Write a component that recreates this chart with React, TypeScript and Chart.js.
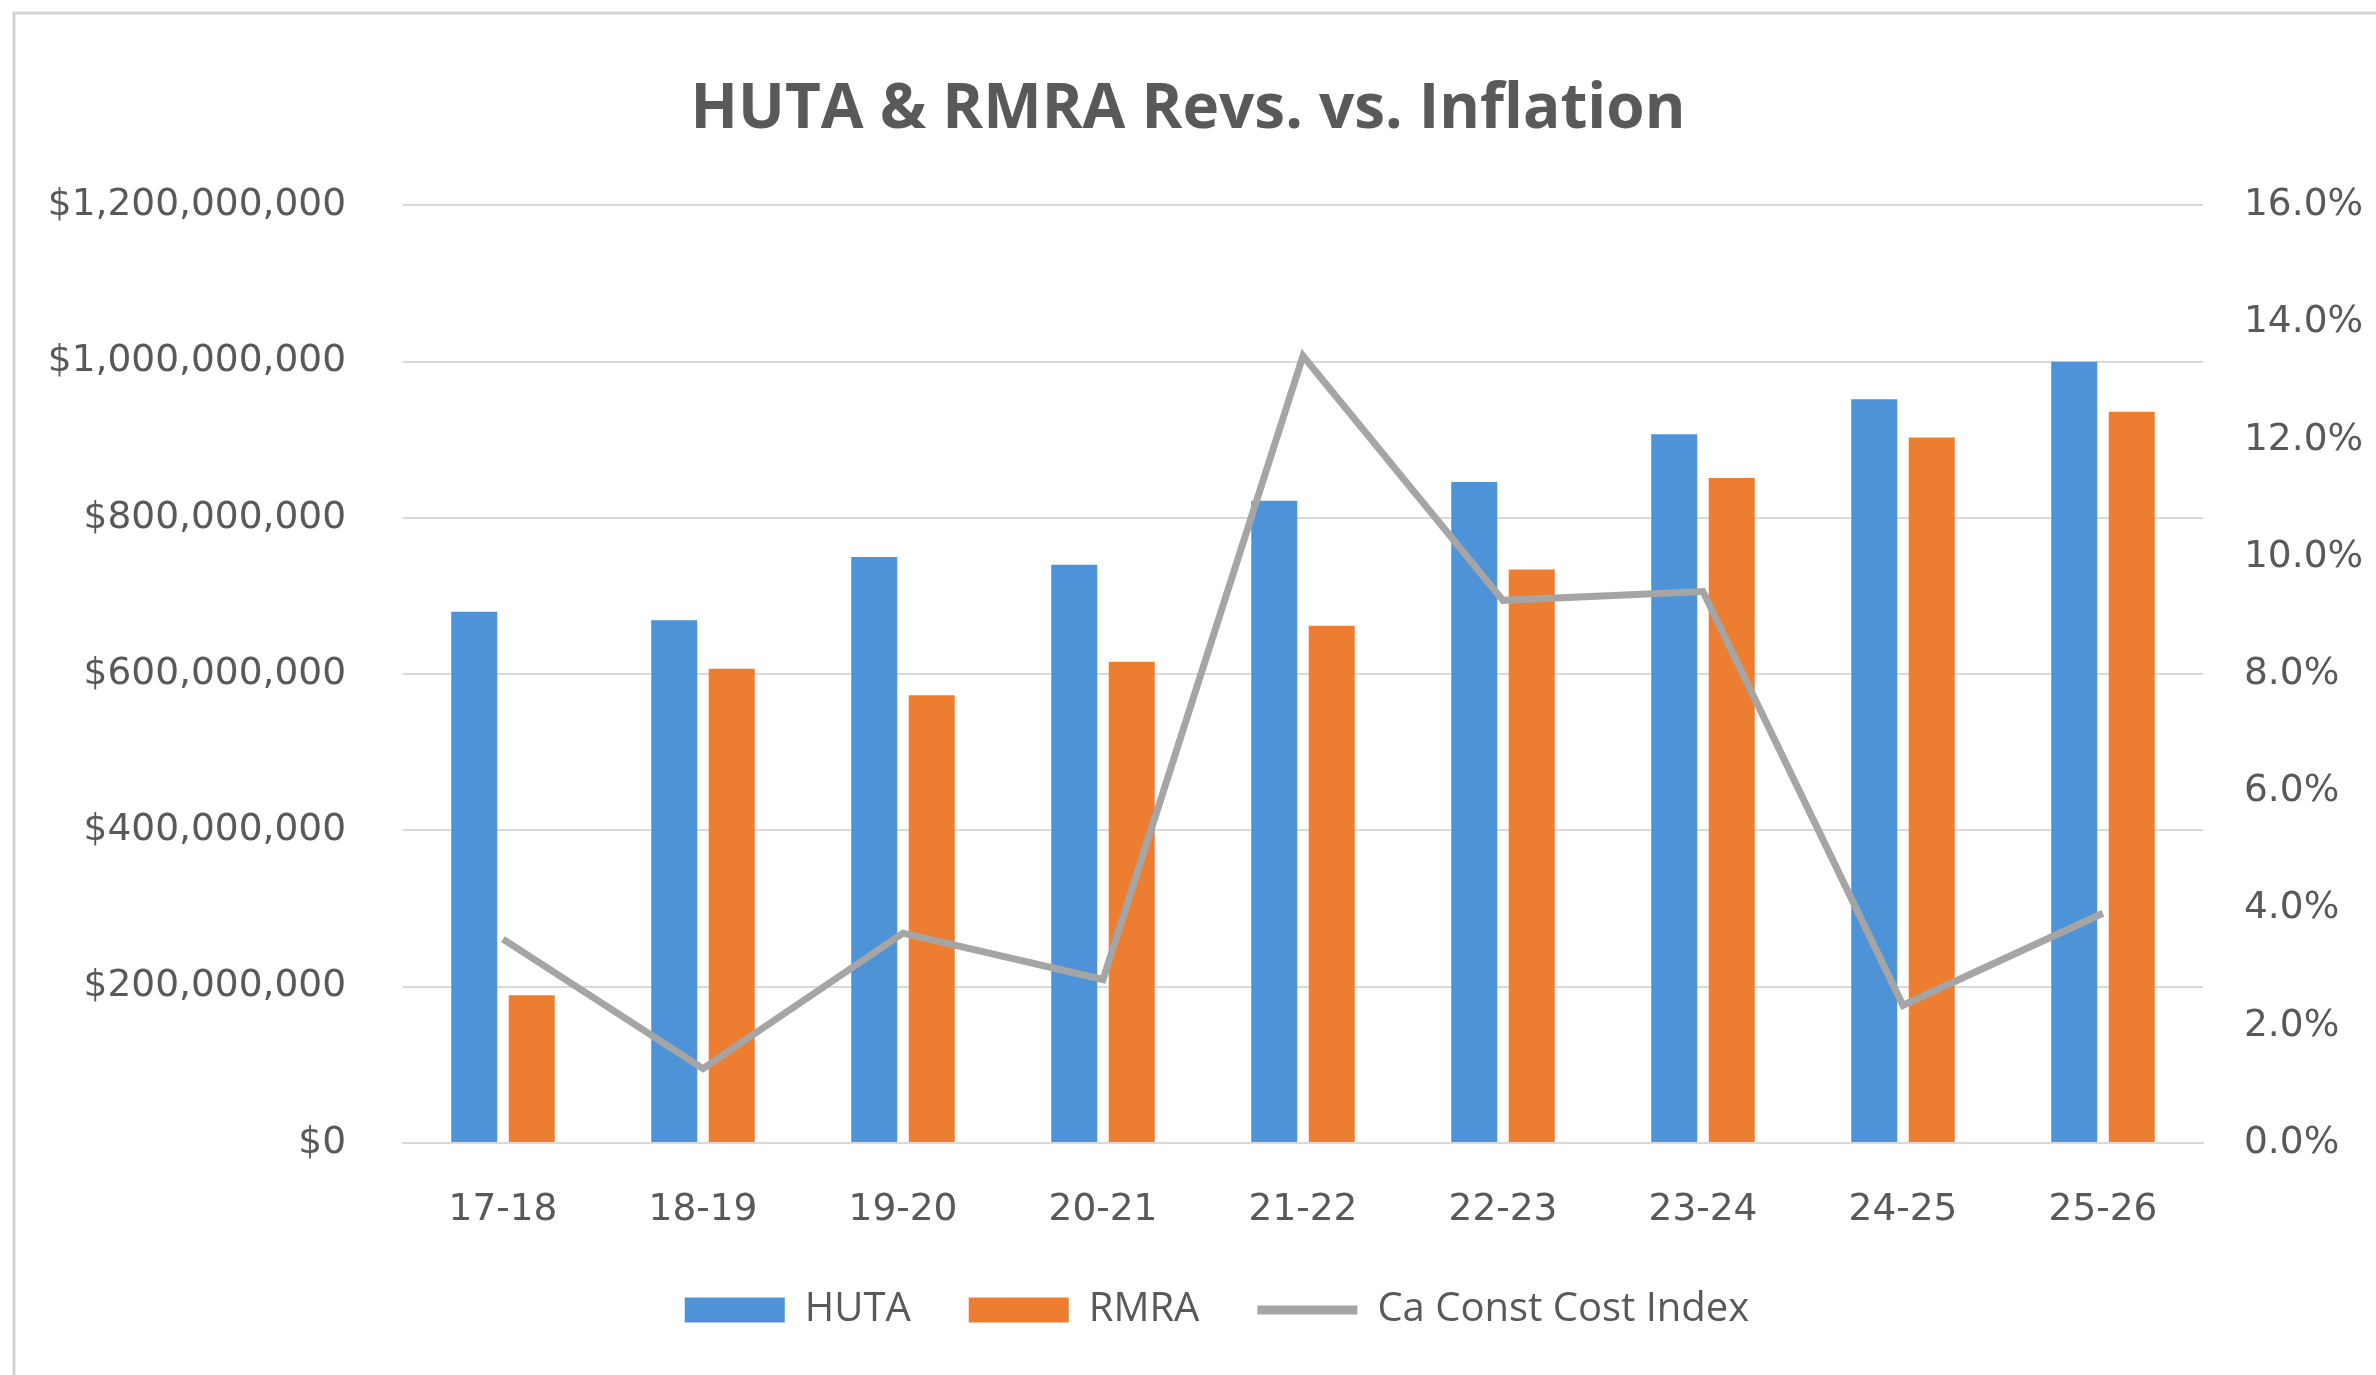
import React, { useEffect, useRef } from 'react';
import { Chart, registerables } from 'chart.js';

Chart.register(...registerables);

const chartTitle = 'HUTA & RMRA Revs. vs. Inflation';
const categories = ['17-18', '18-19', '19-20', '20-21', '21-22', '22-23', '23-24', '24-25', '25-26'];
const hutaValues = [680000000, 669000000, 750000000, 740000000, 822000000, 846000000, 907000000, 952000000, 1000000000];
const rmraValues = [189000000, 607000000, 573000000, 616000000, 662000000, 734000000, 851000000, 903000000, 936000000];
const cciValues = [3.48, 1.27, 3.58, 2.79, 13.43, 9.26, 9.41, 2.35, 3.92];
const seriesLabels = ['HUTA', 'RMRA', 'Ca Const Cost Index'];

const W = 2376;
const H = 1375;
const TEXT = '#595959';

const framePlugin = {
  id: 'frame',
  beforeDraw(chart: any) {
    const ctx = chart.ctx;
    ctx.save();
    ctx.fillStyle = '#ffffff';
    ctx.fillRect(0, 0, chart.width, chart.height);
    ctx.strokeStyle = '#d4d4d4';
    ctx.lineWidth = 3;
    ctx.beginPath();
    ctx.moveTo(14, H);
    ctx.lineTo(14, 13);
    ctx.lineTo(W, 13);
    ctx.stroke();
    ctx.restore();
  },
};

const legendPlace = {
  id: 'legendPlace',
  afterLayout(chart: any) {
    const lg = chart.legend;
    if (lg) {
      const h = lg.bottom - lg.top;
      lg.top = 1232;
      lg.bottom = lg.top + h;
      lg.left += 29;
      lg.right += 29;
    }
  },
};

export default function App() {
  const ref = useRef<HTMLCanvasElement | null>(null);

  useEffect(() => {
    document.body.style.margin = '0';
    const canvas = ref.current;
    if (!canvas) return;
    const chart = new Chart(canvas, {
      type: 'bar',
      data: {
        labels: categories,
        datasets: [
          {
            type: 'line',
            label: seriesLabels[2],
            data: cciValues,
            yAxisID: 'y1',
            borderColor: '#a5a5a5',
            backgroundColor: '#a5a5a5',
            borderWidth: 7,
            pointRadius: 0,
            pointHoverRadius: 0,
            tension: 0,
            order: 0,
          } as any,
          {
            type: 'bar',
            label: seriesLabels[0],
            data: hutaValues,
            yAxisID: 'y',
            backgroundColor: '#4e93d8',
            borderWidth: 0,
            categoryPercentage: 0.575,
            barPercentage: 0.8,
            order: 1,
          },
          {
            type: 'bar',
            label: seriesLabels[1],
            data: rmraValues,
            yAxisID: 'y',
            backgroundColor: '#ed7d31',
            borderWidth: 0,
            categoryPercentage: 0.575,
            barPercentage: 0.8,
            order: 1,
          },
        ],
      },
      options: {
        responsive: false,
        animation: false,
        devicePixelRatio: 1,
        layout: { padding: { left: 0, right: 0, top: 0, bottom: 2 } },
        plugins: {
          title: {
            display: true,
            text: chartTitle,
            color: TEXT,
            font: { family: "'Open Sans'", size: 62, weight: 'bold' },
            padding: { top: 73, bottom: 58 },
          },
          legend: {
            display: true,
            position: 'bottom',
            maxHeight: 95,
            labels: {
              color: TEXT,
              font: { family: "'Open Sans'", size: 40 },
              usePointStyle: true,
              pointStyleWidth: 100,
              boxHeight: 25,
              padding: 58,
              generateLabels: (c: any) => {
                const order = [1, 2, 0];
                return order.map((i) => {
                  const ds = c.data.datasets[i];
                  const isLine = ds.type === 'line';
                  return {
                    text: ds.label,
                    fillStyle: ds.backgroundColor,
                    strokeStyle: isLine ? ds.borderColor : ds.backgroundColor,
                    lineWidth: isLine ? 9 : 0,
                    pointStyle: isLine ? 'line' : 'rect',
                    hidden: false,
                    datasetIndex: i,
                    fontColor: TEXT,
                  };
                });
              },
            },
          },
          tooltip: { enabled: false },
        },
        scales: {
          x: {
            grid: { display: false, drawTicks: false },
            border: { display: true, color: '#d9d9d9', width: 2 },
            ticks: {
              color: TEXT,
              font: { family: "'DejaVu Sans'", size: 37.5 },
              padding: 45,
              maxRotation: 0,
            },
          },
          y: {
            position: 'left',
            min: 0,
            max: 1200000000,
            grid: { color: '#d9d9d9', lineWidth: 2, drawTicks: false },
            border: { display: false },
            ticks: {
              stepSize: 200000000,
              color: TEXT,
              font: { family: "'DejaVu Sans'", size: 37.5 },
              padding: 57,
              callback: (v: any) => '$' + Number(v).toLocaleString('en-US'),
            },
            afterFit: (s: any) => {
              s.width = 403;
            },
          },
          y1: {
            position: 'right',
            min: 0,
            max: 16,
            grid: { display: false, drawTicks: false },
            border: { display: false },
            ticks: {
              stepSize: 2,
              color: TEXT,
              font: { family: "'DejaVu Sans'", size: 37.5 },
              padding: 41,
              callback: (v: any) => Number(v).toFixed(1) + '%',
            },
            afterFit: (s: any) => {
              s.width = W - 2203;
            },
          },
        },
      } as any,
      plugins: [framePlugin, legendPlace],
    });
    return () => chart.destroy();
  }, []);

  return (
    <div style={{ width: W, height: H }}>
      <canvas ref={ref} width={W} height={H} style={{ display: 'block' }} />
    </div>
  );
}
